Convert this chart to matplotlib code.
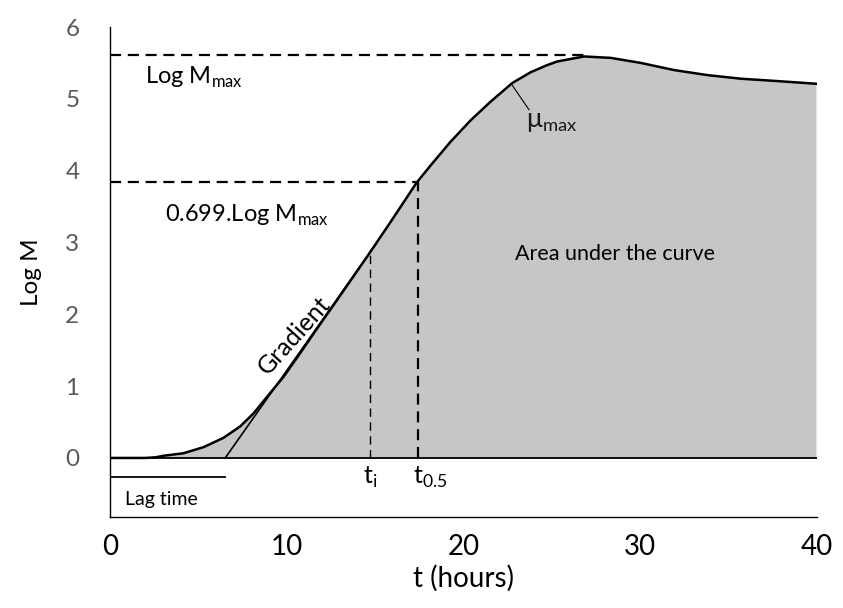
import matplotlib
matplotlib.use("Agg")
import matplotlib.pyplot as plt

plt.rcParams['font.family'] = ['Lato', 'DejaVu Sans']
plt.rcParams['mathtext.fontset'] = 'custom'
plt.rcParams['mathtext.rm'] = 'Lato'

# growth curve (t in hours, log M)
t = [0, 2.0, 2.6, 3.02, 4.15, 5.29, 6.42, 7.37, 8.12, 8.88, 9.82, 10.76, 11.71,
     12.85, 14.54, 15.86, 17.34, 18.13, 19.26, 20.40, 21.53, 22.76, 23.80, 24.74,
     25.31, 26.82, 28.33, 30.03, 31.92, 33.81, 35.69, 37.58, 39.94]
log_m = [0, 0, 0.01, 0.03, 0.065, 0.15, 0.28, 0.44, 0.62, 0.85, 1.13, 1.46, 1.80,
         2.2, 2.8, 3.28, 3.83, 4.07, 4.40, 4.70, 4.96, 5.22, 5.37, 5.47,
         5.52, 5.59, 5.57, 5.50, 5.40, 5.33, 5.28, 5.25, 5.21]

log_m_max = 5.61
t_max = 26.8
y_half = 3.84
t_half = 17.4
t_i = 14.73
y_i = 2.87
lag = 6.52
x_ticks = [0, 10, 20, 30, 40]
y_ticks = [0, 1, 2, 3, 4, 5, 6]

fig = plt.figure(figsize=(8.43, 6.08), dpi=100)
ax = fig.add_axes([110 / 843, 1 - 517 / 608, 707 / 843, 490 / 608])

ax.fill_between(t, 0, log_m, color='#c6c6c6', lw=0)
ax.plot(t, log_m, color='black', lw=1.8, solid_joinstyle='round')
ax.axhline(0, color='black', lw=1.3)

# tangent at the inflection point
slope = y_i / (t_i - lag)
ax.plot([lag, t_i + 0.3], [0, slope * (t_i + 0.3 - lag)], color='black', lw=1.2)

# reference lines
ax.plot([0, t_max], [log_m_max, log_m_max], color='black', lw=1.6, dashes=(5, 3))
ax.plot([0, t_half], [y_half, y_half], color='black', lw=1.6, dashes=(5, 3))
ax.plot([t_half, t_half], [0, y_half], color='black', lw=1.6, dashes=(5, 3))
ax.plot([t_i, t_i], [0, y_i], color='black', lw=1.0, dashes=(6, 4))

# lag time bar
ax.plot([0, lag], [-0.265, -0.265], color='black', lw=1.3)
ax.text(0.85, -0.585, 'Lag time', fontsize=14, va='center', ha='left')

# mu max pointer
ax.plot([22.7, 23.7], [5.21, 4.85], color='black', lw=0.8)

ax.text(2.0, 5.3, r'Log M$_\mathregular{max}$', fontsize=17, va='center')
ax.text(3.1, 3.38, r'0.699.Log M$_\mathregular{max}$', fontsize=17, va='center')
ax.text(23.55, 4.68, r'$\mathregular{\mu}_\mathregular{max}$', fontsize=19, va='center',
        color='#1a1a1a')
ax.text(22.9, 2.84, 'Area under the curve', fontsize=15.5, va='center')
ax.text(10.4, 1.7, 'Gradient', fontsize=18, rotation=48, ha='center', va='center',
        rotation_mode='anchor')
ax.text(t_i, -0.27, r't$_\mathregular{i}$', fontsize=18, ha='center', va='center')
ax.text(t_half + 0.7, -0.27, r't$_\mathregular{0.5}$', fontsize=18, ha='center', va='center')

ax.set_xlim(0, 40)
ax.set_ylim(-0.822, 6.0)
ax.set_xticks(x_ticks)
ax.set_yticks(y_ticks)
ax.tick_params(length=0)
ax.tick_params(axis='x', labelsize=20, pad=12, colors='black')
ax.tick_params(axis='y', labelsize=17.5, pad=22, labelcolor='#595959')
for s in ['top', 'right']:
    ax.spines[s].set_visible(False)
ax.spines['left'].set_linewidth(1.0)
ax.spines['bottom'].set_linewidth(1.0)

ax.set_xlabel('t (hours)', fontsize=20, labelpad=4)
ax.set_ylabel('Log M', fontsize=17.5, labelpad=17)

fig.savefig('out.png', dpi=100)
